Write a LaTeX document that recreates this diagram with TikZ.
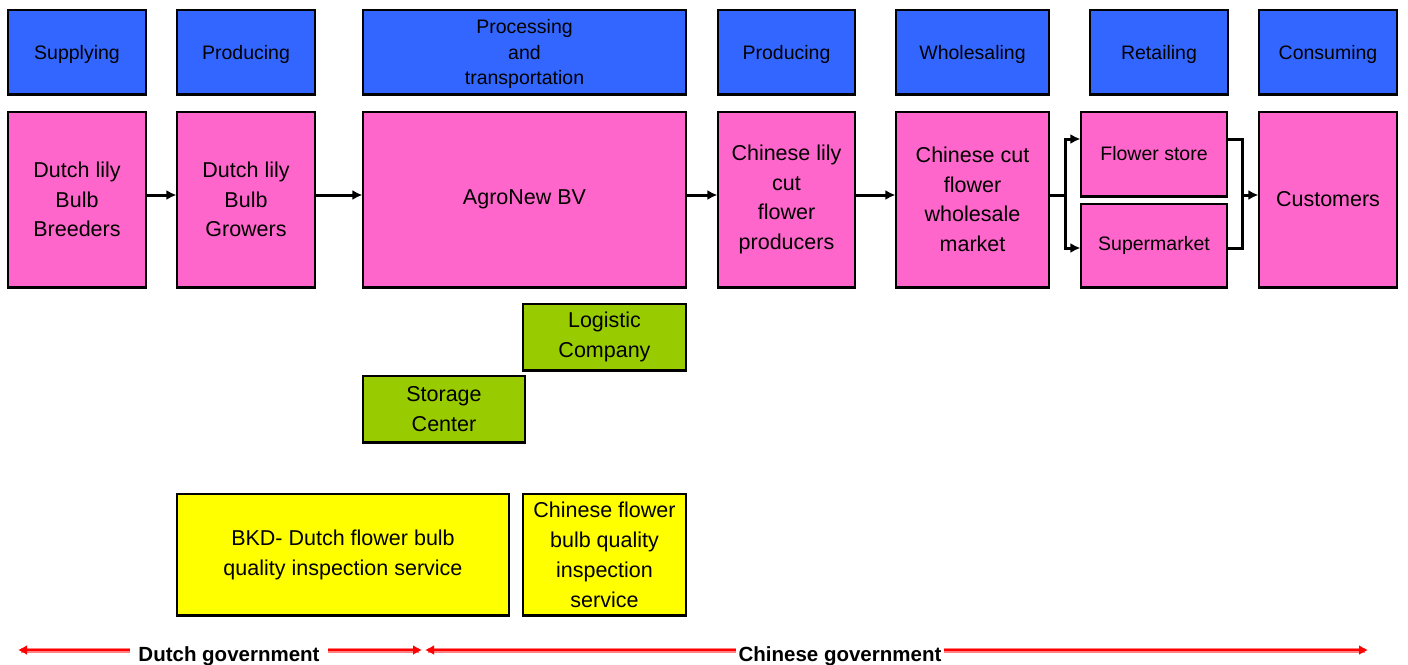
\documentclass[tikz,border=0pt]{standalone}
\usepackage{fontspec}
\setmainfont{Liberation Sans}
\usetikzlibrary{arrows.meta}
\definecolor{hdrblue}{HTML}{3366FF}
\definecolor{pinkbox}{HTML}{FF66CC}
\definecolor{greenbox}{HTML}{99CC00}
\definecolor{yellowbox}{HTML}{FFFF00}
\definecolor{govred}{HTML}{FF0000}
\definecolor{govlight}{HTML}{FF8080}
\tikzset{
  basebox/.style={draw=black, line width=1.2pt, align=center, inner sep=0pt, text=black},
  hdr/.style={basebox, fill=hdrblue, minimum height=84pt, text depth=0pt, font=\fontsize{19.5}{25.5}\selectfont},
  actor/.style={basebox, fill=pinkbox, font=\fontsize{21.5}{29.5}\selectfont},
  small/.style={basebox, fill=pinkbox, font=\fontsize{19.5}{25}\selectfont},
  grn/.style={basebox, fill=greenbox, font=\fontsize{21.5}{29.5}\selectfont},
  ylw/.style={basebox, fill=yellowbox, font=\fontsize{21.5}{30}\selectfont},
  flow/.style={line width=3pt, -{Latex[length=10pt,width=10pt]}},
  flowline/.style={line width=3pt},
  govlbl/.style={font=\bfseries\fontsize{20.5}{24}\selectfont, inner sep=0pt, anchor=base},
  govlow/.style={line width=5pt, govlight},
  govhigh/.style={line width=1.8pt, govred},
  govtip/.tip={Latex[length=9pt,width=10pt]},
  bottomedge/.style={line width=3pt, black},
}
\begin{document}
\begin{tikzpicture}[x=1pt,y=1pt]
\useasboundingbox (0,0) rectangle (1408,-664);
% header row
\node[hdr, minimum width=138pt] (hsup) at (77,-52) {Supplying};
\node[hdr, minimum width=138pt] (hprod) at (246,-52) {Producing};
\node[hdr, minimum width=323pt] (hproc) at (524.5,-52) {Processing\\and\\transportation};
\node[hdr, minimum width=137pt] (hprod2) at (786.5,-52) {Producing};
\node[hdr, minimum width=153pt] (hwhole) at (972.5,-52) {Wholesaling};
\node[hdr, minimum width=138pt] (hret) at (1159,-52) {Retailing};
\node[hdr, minimum width=138pt] (hcons) at (1328,-52) {Consuming};
% actor row
\node[actor, minimum width=138pt, minimum height=175pt] (breed) at (77,-199.5) {Dutch lily\\Bulb\\Breeders};
\node[actor, minimum width=138pt, minimum height=175pt] (grow) at (246,-199.5) {Dutch lily\\Bulb\\Growers};
\node[actor, minimum width=323pt, minimum height=175pt] (agro) at (524.5,-199.5) {AgroNew BV};
\node[actor, minimum width=137pt, minimum height=175pt] (chlily) at (786.5,-199.5) {Chinese lily\\cut\\flower\\producers};
\node[actor, minimum width=153pt, minimum height=175pt] (whcut) at (972.5,-199.5) {Chinese cut\\flower\\wholesale\\market};
\node[small, minimum width=146pt, minimum height=84pt] (flower) at (1154,-154) {Flower store};
\node[small, minimum width=146pt, minimum height=83pt] (super) at (1154,-245.5) {Supermarket};
\node[actor, minimum width=138pt, minimum height=175pt] (cust) at (1328,-199.5) {Customers};
% green
\node[grn, minimum width=163pt, minimum height=66pt] (logi) at (604.5,-337) {Logistic\\Company};
\node[grn, minimum width=162pt, minimum height=66pt] (stor) at (444,-409) {Storage\\Center};
% yellow
\node[ylw, minimum width=332pt, minimum height=121pt] (bkd) at (343,-554.5) {BKD- Dutch flower bulb\\quality inspection service};
\node[ylw, minimum width=163pt, minimum height=121pt] (cfb) at (604.5,-554.5) {Chinese flower\\bulb quality\\inspection\\service};
% bottom shadow edges
\foreach \n in {hsup,hprod,hproc,hprod2,hwhole,hret,hcons,breed,grow,agro,chlily,whcut,flower,super,cust,logi,stor,bkd,cfb}
  \draw[bottomedge] (\n.south west) -- (\n.south east);
% flow arrows
\draw[flow] ([yshift=4.5pt]breed.east) -- ([yshift=4.5pt]grow.west);
\draw[flow] ([yshift=4.5pt]grow.east) -- ([yshift=4.5pt]agro.west);
\draw[flow] ([yshift=4.5pt]agro.east) -- ([yshift=4.5pt]chlily.west);
\draw[flow] ([yshift=4.5pt]chlily.east) -- ([yshift=4.5pt]whcut.west);
\coordinate (split) at (1065,-195);
\coordinate (join) at (1242,-195);
\draw[flowline] ([yshift=4.5pt]whcut.east) -- (split);
\draw[flow] (split) |- ([yshift=15pt]flower.west);
\draw[flow] (split) |- ([yshift=-2.5pt]super.west);
\draw[flowline] ([yshift=15pt]flower.east) -| (join);
\draw[flowline] ([yshift=-2.5pt]super.east) -| (join);
\draw[flow] (join) -- ([yshift=4.5pt]cust.west);
% government spans
\node[govlbl] (dutch) at (229,-661) {Dutch government};
\node[govlbl] (chin) at (840,-661) {Chinese government};
\coordinate (dl) at (18,-650);
\coordinate (dr) at (422,-650);
\coordinate (cl) at (425,-650);
\coordinate (cr) at (1368,-650);
\draw[govlow] ([xshift=3pt]dl) -- ([xshift=-8pt]dl -| dutch.west);
\draw[govlow] ([xshift=8pt]dl -| dutch.east) -- ([xshift=-3pt]dr);
\draw[govlow] ([xshift=3pt]cl) -- ([xshift=-2pt]cl -| chin.west);
\draw[govlow] ([xshift=2pt]cl -| chin.east) -- ([xshift=-3pt]cr);
\draw[govhigh, govtip-] (dl) -- ([xshift=-8pt]dl -| dutch.west);
\draw[govhigh, -govtip] ([xshift=8pt]dl -| dutch.east) -- (dr);
\draw[govhigh, govtip-] (cl) -- ([xshift=-2pt]cl -| chin.west);
\draw[govhigh, -govtip] ([xshift=2pt]cl -| chin.east) -- (cr);
\end{tikzpicture}
\end{document}
